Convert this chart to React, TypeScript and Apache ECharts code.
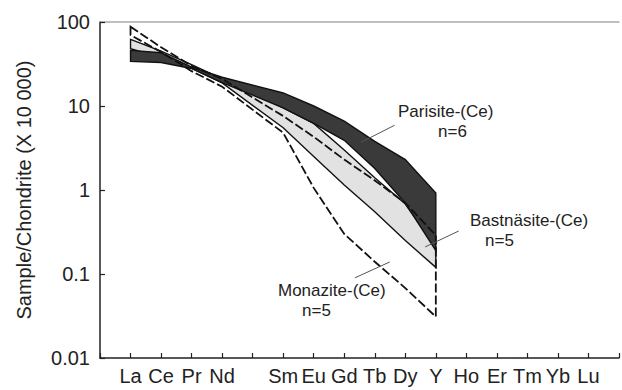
import React, { useEffect, useRef } from "react";
import * as echarts from "echarts";

// x positions: index on the REE axis (Pm slot left blank)
const elements = ["La", "Ce", "Pr", "Nd", "", "Sm", "Eu", "Gd", "Tb", "Dy", "Y", "Ho", "Er", "Tm", "Yb", "Lu"];
const bandIdx = [0, 1, 2, 3, 5, 6, 7, 8, 9, 10]; // La Ce Pr Nd Sm Eu Gd Tb Dy Y

const parisiteUpper = [46, 43, 29, 22, 14.3, 10, 6.6, 3.8, 2.3, 0.92];
const parisiteLower = [34, 33, 28, 19, 9.5, 6.2, 3.9, 1.8, 0.7, 0.19];
const bastnasiteUpper = [62, 45, 31, 21, 9.5, 6.2, 3.0, 1.4, 0.68, 0.21];
const bastnasiteLower = [48, 38, 28, 18.8, 5.5, 2.5, 1.15, 0.55, 0.25, 0.12];
const monaziteUpper = [88, 50, 30, 21, 7.6, 4.3, 2.3, 1.3, 0.7, 0.29];
const monaziteLower = [70, 44, 26, 17, 4.8, 1.06, 0.3, 0.14, 0.068, 0.031];

const leaderParisite = [[8.65, 5.9], [7.55, 3.7]];
const leaderBastnasite = [[10.75, 0.325], [9.65, 0.21]];
const leaderMonazite = [[8.49, 0.139], [7.35, 0.09]];

const FONT = "'Liberation Sans', Arial, sans-serif";

function bandSeries(name: string, upper: number[], lower: number[], fill: string, dash: number[] | null, z: number) {
  return {
    type: "custom",
    name,
    coordinateSystem: "cartesian2d",
    silent: true,
    z,
    data: bandIdx.map((x, i) => [x, upper[i], lower[i]]),
    encode: { x: 0, y: [1, 2] },
    renderItem: (params: any, api: any) => {
      if (params.dataIndex !== 0) return null;
      const top = bandIdx.map((x, i) => api.coord([x, upper[i]]));
      const bottom = bandIdx.map((x, i) => api.coord([x, lower[i]])).reverse();
      return {
        type: "polygon",
        shape: { points: [...top, ...bottom] },
        style: {
          fill,
          stroke: "#111",
          lineWidth: dash ? 1.8 : 1.4,
          lineDash: dash || null,
          lineJoin: "miter",
        },
      };
    },
  };
}

function leader(name: string, pts: number[][]) {
  return {
    type: "line",
    name,
    data: pts,
    symbol: "none",
    silent: true,
    z: 10,
    lineStyle: { color: "#555", width: 1 },
  };
}

export default function App() {
  const ref = useRef<HTMLDivElement>(null);
  useEffect(() => {
    if (!ref.current) return;
    const chart = echarts.init(ref.current, null, { renderer: "svg" });
    const textStyle = (text: string, x: number, y: number) => ({
      type: "text",
      x,
      y,
      silent: true,
      style: { text, fill: "#222", fontSize: 17, fontFamily: FONT, align: "left", verticalAlign: "middle" },
    });
    chart.setOption({
      animation: false,
      backgroundColor: "#fff",
      grid: { left: 100, right: -2, top: 22, bottom: 32 },
      xAxis: [
        {
          type: "value",
          min: -1,
          max: 16,
          interval: 1,
          axisLine: { onZero: false, lineStyle: { color: "#222", width: 1.5 } },
          axisTick: { inside: true, length: 5, lineStyle: { color: "#222", width: 1.2 } },
          splitLine: { show: false },
          axisLabel: {
            fontSize: 20,
            fontFamily: FONT,
            color: "#222",
            margin: 8,
            formatter: (v: number) => (v >= 0 && v < elements.length ? elements[v] : ""),
          },
        },
        {
          type: "value",
          position: "top",
          min: -1,
          max: 16,
          axisLine: { show: true, onZero: false, lineStyle: { color: "#aaa", width: 1.5 } },
          axisTick: { show: false },
          axisLabel: { show: false },
          splitLine: { show: false },
        },
      ],
      yAxis: {
        type: "log",
        logBase: 10,
        min: 0.01,
        max: 100,
        name: "Sample/Chondrite (X 10 000)",
        nameLocation: "middle",
        nameGap: 66,
        nameTextStyle: { fontSize: 20, fontFamily: FONT, color: "#222" },
        axisLine: { show: true, onZero: false, lineStyle: { color: "#222", width: 1.5 } },
        axisTick: { inside: true, length: 5, lineStyle: { color: "#222", width: 1.2 } },
        splitLine: { show: false },
        minorTick: { show: false },
        axisLabel: {
          fontSize: 20,
          fontFamily: FONT,
          color: "#222",
          margin: 10,
          formatter: (v: number) => String(Number(v.toPrecision(3))),
        },
      },
      series: [
        bandSeries("Bastnäsite-(Ce)", bastnasiteUpper, bastnasiteLower, "#e2e2e2", null, 2),
        bandSeries("Parisite-(Ce)", parisiteUpper, parisiteLower, "#3a3a3a", null, 3),
        bandSeries("Monazite-(Ce)", monaziteUpper, monaziteLower, "none", [9, 3], 4),
        leader("leaderP", leaderParisite),
        leader("leaderB", leaderBastnasite),
        leader("leaderM", leaderMonazite),
      ],
      graphic: [
        textStyle("Parisite-(Ce)", 398, 111),
        textStyle("n=6", 438, 131),
        textStyle("Bastnäsite-(Ce)", 470, 220),
        textStyle("n=5", 485, 240),
        textStyle("Monazite-(Ce)", 278, 290),
        textStyle("n=5", 302, 310),
      ],
    });
    return () => chart.dispose();
  }, []);
  return <div ref={ref} style={{ position: "fixed", left: 0, top: 0, width: 622, height: 390, background: "#fff" }} />;
}
